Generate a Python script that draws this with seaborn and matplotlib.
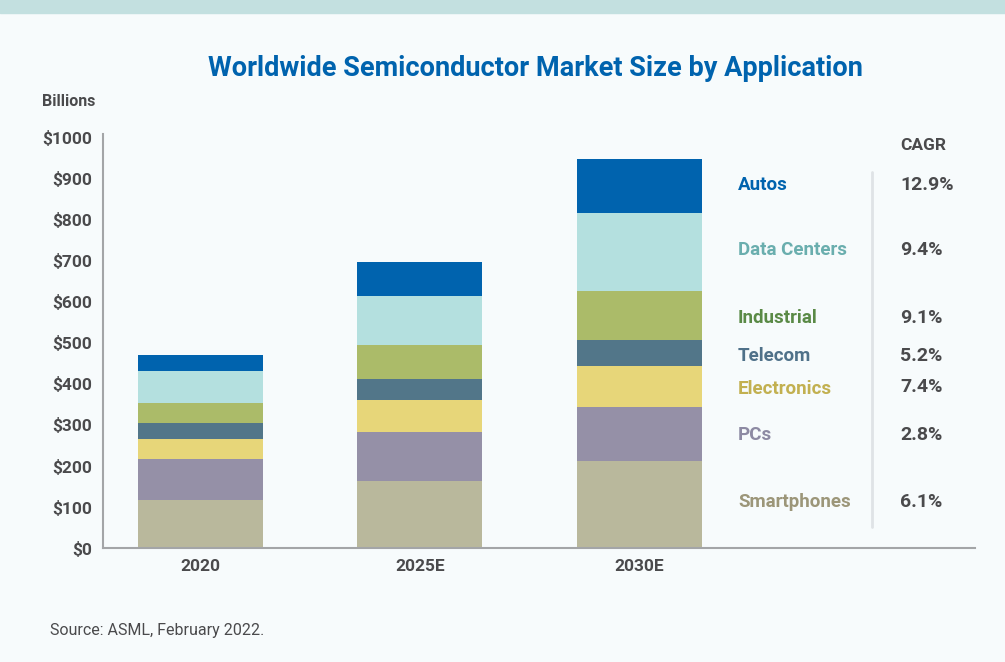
import numpy as np
import pandas as pd
import matplotlib
matplotlib.use('Agg')
import matplotlib.pyplot as plt
import seaborn as sns

# values (USD billions)
years = ['2020', '2025E', '2030E']
segments = ['Smartphones', 'PCs', 'Electronics', 'Telecom', 'Industrial', 'Data Centers', 'Autos']
smartphones = [117, 164, 212]
pcs = [100, 120, 132]
electronics = [49, 76, 99]
telecom = [38, 52, 63]
industrial = [50, 82, 120]
data_centers = [77, 121, 189]
autos = [39, 82, 131]
cagr = ['6.1%', '2.8%', '7.4%', '5.2%', '9.1%', '9.4%', '12.9%']
yticks = np.arange(0, 1001, 100)

bar_colors = ['#b9b89c', '#9590a7', '#e7d679', '#527689', '#abbb69', '#b4e0df', '#0063ae']
label_colors = ['#9c9679', '#8d8aa3', '#c2b050', '#4f7189', '#5a8a46', '#6aaeae', '#0063ae']
# label centres in pixels from the top of the picture
label_px = [502, 435, 389, 356, 318, 250, 185]
cagr_px = [502, 435, 387, 356, 318, 250, 185]

BG = '#f7fbfc'
TXT = '#4a4a4c'

sns.set_theme(style='white')
plt.rcParams['font.family'] = ['Liberation Sans Narrow', 'Roboto', 'DejaVu Sans']

df = pd.DataFrame({'Year': years, 'Smartphones': smartphones, 'PCs': pcs,
                   'Electronics': electronics, 'Telecom': telecom,
                   'Industrial': industrial, 'Data Centers': data_centers,
                   'Autos': autos})
cum = df[segments].cumsum(axis=1)
cum['Year'] = df['Year']

W, H = 1005, 662
fig = plt.figure(figsize=(W / 100, H / 100), dpi=100, facecolor=BG)
ax = fig.add_axes([103 / W, 1 - 548.3 / H, (975 - 103) / W, (548.3 - 134) / H])
ax.set_facecolor(BG)

# stacked bars: draw cumulative totals from the top segment down
for seg, col in reversed(list(zip(segments, bar_colors))):
    sns.barplot(data=cum, x='Year', y=seg, color=col, width=0.57,
                saturation=1, edgecolor='none', linewidth=0, ax=ax)

ax.set_xlim(-0.444, 3.53)
ax.set_ylim(0, 1008)
ax.set_yticks(yticks)
ax.set_yticklabels(['$%d' % v for v in yticks])
ax.set_xlabel('')
ax.set_ylabel('')
ax.tick_params(axis='both', length=0, labelsize=12.5, colors=TXT, pad=8)
for lab in ax.get_xticklabels() + ax.get_yticklabels():
    lab.set_fontweight('bold')
sns.despine(ax=ax)
for s in ['left', 'bottom']:
    ax.spines[s].set_color('#a3a5a7')
    ax.spines[s].set_linewidth(1.5)

# top band
fig.patches.append(plt.Rectangle((0, 1 - 13 / H), 1, 13 / H, transform=fig.transFigure,
                                 color='#c3e0e0', zorder=0))

fig.text(535 / W, 1 - 68 / H, 'Worldwide Semiconductor Market Size by Application',
         ha='center', va='center', fontsize=19.5, fontweight='bold', color='#0063ae')
fig.text(42 / W, 1 - 101 / H, 'Billions', ha='left', va='center', fontsize=11.5,
         fontweight='bold', color=TXT)
fig.text(50 / W, 1 - 630 / H, 'Source: ASML, February 2022.', ha='left', va='center',
         fontsize=11.5, color=TXT)

# legend with CAGR column
fig.text(900 / W, 1 - 145 / H, 'CAGR', ha='left', va='center', fontsize=12.5,
         fontweight='bold', color=TXT)
for seg, col, yp, cp, c in zip(segments, label_colors, label_px, cagr_px, cagr):
    fig.text(738 / W, 1 - yp / H, seg, ha='left', va='center', fontsize=13.5,
             fontweight='bold', color=col)
    fig.text(900 / W, 1 - cp / H, c, ha='left', va='center', fontsize=14,
             fontweight='bold', color=TXT)
fig.add_artist(plt.Line2D([872 / W, 872 / W], [1 - 172 / H, 1 - 527 / H],
                          transform=fig.transFigure, color='#dfe3e6', linewidth=2))

fig.savefig('out.png', dpi=100, facecolor=BG)
